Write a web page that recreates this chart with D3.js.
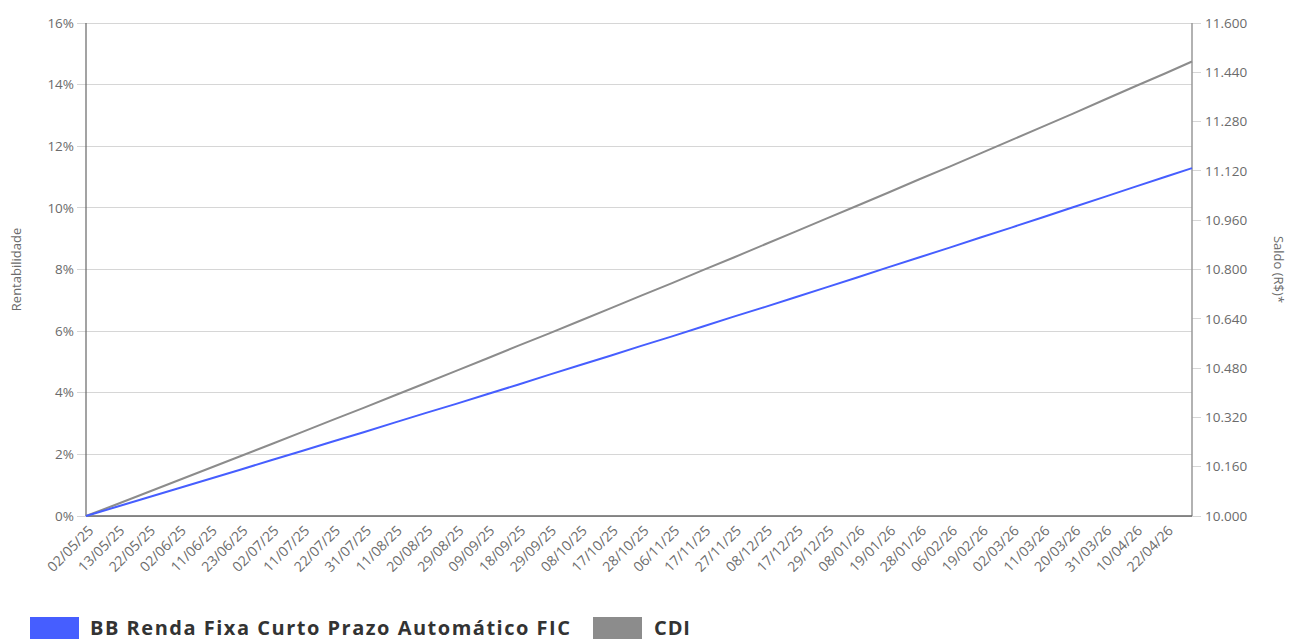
<!DOCTYPE html>
<html><head><meta charset="utf-8">
<script src="https://cdn.jsdelivr.net/npm/d3@7"></script>
<style>
body{margin:0;background:#fff;}
svg{display:block;font-family:"Open Sans",sans-serif;}
</style></head>
<body><svg id="c" width="1289" height="639"></svg>
<script>
// tick labels (every 7th business day) and index of each point
const tickLabels = ["02/05/25","13/05/25","22/05/25","02/06/25","11/06/25","23/06/25","02/07/25","11/07/25","22/07/25","31/07/25","11/08/25","20/08/25","29/08/25","09/09/25","18/09/25","29/09/25","08/10/25","17/10/25","28/10/25","06/11/25","17/11/25","27/11/25","08/12/25","17/12/25","29/12/25","08/01/26","19/01/26","28/01/26","06/02/26","19/02/26","02/03/26","11/03/26","20/03/26","31/03/26","10/04/26","22/04/26"];
const dates = tickLabels.concat(["30/04/26"]);
const dayIndex = [0,7,14,21,28,35,42,49,56,63,70,77,84,91,98,105,112,119,126,133,140,147,154,161,168,175,182,189,196,203,210,217,224,231,238,245,251];
const bbValues = [0,0.30,0.60,0.90,1.20,1.50,1.81,2.11,2.42,2.72,3.03,3.34,3.64,3.95,4.26,4.58,4.89,5.20,5.52,5.83,6.15,6.47,6.78,7.10,7.42,7.74,8.07,8.39,8.71,9.04,9.36,9.69,10.02,10.35,10.68,11.01,11.29];
const cdiValues = [0,0.38,0.77,1.16,1.55,1.94,2.33,2.72,3.12,3.51,3.91,4.31,4.71,5.11,5.52,5.92,6.33,6.74,7.15,7.56,7.98,8.39,8.81,9.23,9.65,10.07,10.49,10.92,11.34,11.77,12.20,12.63,13.06,13.50,13.94,14.37,14.75];
const leftTicks = [0,2,4,6,8,10,12,14,16];
const rightTicks = [10000,10160,10320,10480,10640,10800,10960,11120,11280,11440,11600];
const seriesNames = ["BB Renda Fixa Curto Prazo Automático FIC","CDI"];
const seriesColors = ["#465EFF","#8C8C8C"];

const svg = d3.select("#c");
const L=86, R=1192, T=23, B=516;
const x = d3.scaleLinear().domain([0,251]).range([L,R]);
const y = d3.scaleLinear().domain([0,16]).range([B,T]);
const y2 = d3.scaleLinear().domain([10000,11600]).range([B,T]);
const fmtR = v => d3.format(",")(v).replace(/,/g,".");

// gridlines
svg.append("g").selectAll("line").data(leftTicks).join("line")
  .attr("x1",L-9).attr("x2",R).attr("y1",d=>y(d)).attr("y2",d=>y(d))
  .attr("stroke","#d6d6d6").attr("stroke-width",1).attr("shape-rendering","crispEdges");
// left labels
svg.append("g").selectAll("text").data(leftTicks).join("text")
  .attr("x",L-12).attr("y",d=>y(d)).attr("dy","0.35em").attr("text-anchor","end")
  .attr("font-size",13.5).attr("fill","#6b6b6b").text(d=>d+"%");
// right ticks
svg.append("g").selectAll("line").data(rightTicks).join("line")
  .attr("x1",R).attr("x2",R+9).attr("y1",d=>y2(d)).attr("y2",d=>y2(d))
  .attr("stroke","#d6d6d6").attr("shape-rendering","crispEdges");
svg.append("g").selectAll("text").data(rightTicks).join("text")
  .attr("x",R+13).attr("y",d=>y2(d)).attr("dy","0.35em").attr("text-anchor","start")
  .attr("font-size",13.5).attr("fill","#6b6b6b").text(d=>fmtR(d));

// axis lines
svg.append("line").attr("x1",L).attr("x2",L).attr("y1",T).attr("y2",B).attr("stroke","#666").attr("stroke-width",1.2);
svg.append("line").attr("x1",R).attr("x2",R).attr("y1",T).attr("y2",B).attr("stroke","#999").attr("stroke-width",1.5);
svg.append("line").attr("x1",L).attr("x2",R).attr("y1",B).attr("y2",B).attr("stroke","#666").attr("stroke-width",1.5);

// x labels
svg.append("g").selectAll("text").data(tickLabels).join("text")
  .attr("transform",(d,i)=>`translate(${x(dayIndex[i])+5},${B+12}) rotate(-45)`)
  .attr("text-anchor","end").attr("dy","0.35em")
  .attr("font-size",14).attr("fill","#6b6b6b").text(d=>d);

// titles
svg.append("text").attr("transform",`translate(21,${(T+B)/2}) rotate(-90)`)
  .attr("text-anchor","middle").attr("font-size",13).attr("fill","#6b6b6b").text("Rentabilidade");
svg.append("text").attr("transform",`translate(1274,${(T+B)/2}) rotate(90)`)
  .attr("text-anchor","middle").attr("font-size",13).attr("fill","#6b6b6b").text("Saldo (R$)*");

// lines
const line = d3.line().x((d,i)=>x(dayIndex[i])).y(d=>y(d));
[cdiValues,bbValues].forEach((vals,k)=>{
  svg.append("path").datum(vals).attr("d",line).attr("fill","none")
    .attr("stroke", k===0?seriesColors[1]:seriesColors[0]).attr("stroke-width",2);
});

// legend
const lg = svg.append("g");
function fitText(t, w){
  const len = t.node().getComputedTextLength();
  const n = t.text().length;
  t.attr("letter-spacing", ((w-len)/(n-1)).toFixed(2));
}
lg.append("rect").attr("x",30).attr("y",617).attr("width",49).attr("height",22).attr("fill",seriesColors[0]);
const t1 = lg.append("text").attr("x",90).attr("y",634.5).attr("font-size",20).attr("font-weight",700)
  .attr("fill","#333").text(seriesNames[0]);
fitText(t1, 480);
lg.append("rect").attr("x",593).attr("y",617).attr("width",49).attr("height",22).attr("fill",seriesColors[1]);
const t2 = lg.append("text").attr("x",654).attr("y",634.5).attr("font-size",20).attr("font-weight",700)
  .attr("fill","#333").text(seriesNames[1]);
fitText(t2, 36);
</script></body></html>
